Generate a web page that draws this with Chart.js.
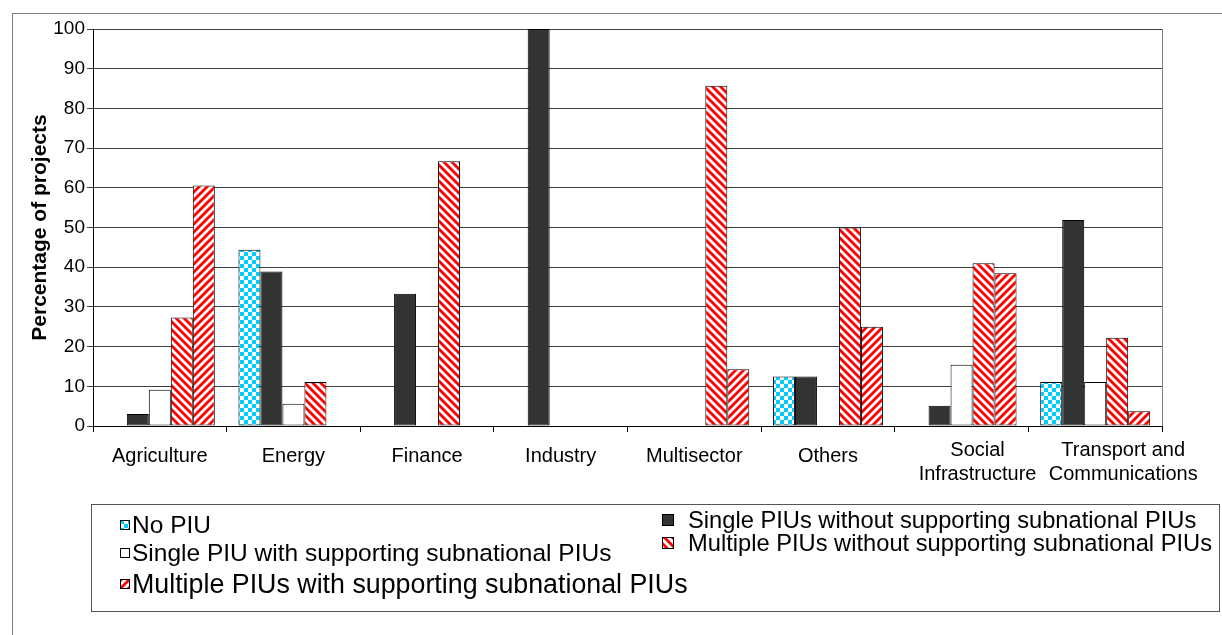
<!DOCTYPE html>
<html><head><meta charset="utf-8">
<script src="https://cdn.jsdelivr.net/npm/chart.js@4.4.1/dist/chart.umd.min.js"></script>
<style>
html,body{margin:0;padding:0;background:#fff;overflow:hidden;}
#wrap{position:relative;width:1222px;height:635px;overflow:hidden;font-family:"Liberation Sans",Arial,sans-serif;background:#fff;}
#outer{position:absolute;left:12px;top:13px;width:1300px;height:700px;border:1px solid #808080;}
#c{position:absolute;left:0;top:0;}
#legend{position:absolute;left:91px;top:504px;width:1129px;height:108px;border:1px solid #555;box-sizing:border-box;}
.item{position:absolute;white-space:nowrap;color:#000;display:flex;align-items:center;height:30px;}
.item canvas{display:block;}
</style></head><body>
<div id="wrap"><div id="outer"></div><canvas id="c" width="1222" height="635"></canvas><div id="legend"></div></div>
<script>
// ---- data ----
const categories = ['Agriculture', 'Energy', 'Finance', 'Industry', 'Multisector', 'Others', ['Social', 'Infrastructure'], ['Transport and', 'Communications']];
const seriesNames = ['No PIU', 'Single PIUs without supporting subnational PIUs', 'Single PIU with supporting subnational PIUs', 'Multiple PIUs without supporting subnational PIUs', 'Multiple PIUs with supporting subnational PIUs'];
const noPIU           = [0,    44.4, 0,    0,   0,    12.5, 0,    11.1];
const singleWithout   = [3.0,  38.9, 33.3, 100, 0,    12.5, 5.1,  51.9];
const singleWith      = [9.1,  5.6,  0,    0,   0,    0,    15.4, 11.1];
const multipleWithout = [27.3, 11.1, 66.7, 0,   85.7, 50.0, 41.0, 22.2];
const multipleWith    = [60.6, 0,    0,    0,   14.3, 25.0, 38.5, 3.7];
const yTicks = [0, 10, 20, 30, 40, 50, 60, 70, 80, 90, 100];
const yTitle = 'Percentage of projects';

// ---- styles ----
const labelShift = [0, 0, 0, 0, 0, 0, 16, 28];
const FONT = '"Liberation Sans", Arial, sans-serif';

// ---- patterns ----
const CYAN = [0, 204, 255], WHITE = [255, 255, 255], RED = [255, 0, 0], DARK = [51, 51, 51];
function tile(size, fn) {
  const c = document.createElement('canvas'); c.width = c.height = size;
  const g = c.getContext('2d'); const img = g.createImageData(size, size);
  for (let y = 0; y < size; y++) for (let x = 0; x < size; x++) {
    const col = fn(x, y); const i = (y * size + x) * 4;
    img.data[i] = col[0]; img.data[i + 1] = col[1]; img.data[i + 2] = col[2]; img.data[i + 3] = 255;
  }
  g.putImageData(img, 0, 0); return c;
}
function mix(a, b, t) { return [0, 1, 2].map(k => Math.round(a[k] * t + b[k] * (1 - t))); }
function stripe(dir) {
  return tile(8, (x, y) => {
    let cov = 0, n = 0;
    for (let sy = 0; sy < 4; sy++) for (let sx = 0; sx < 4; sx++) {
      const px = x + (sx + 0.5) / 4, py = y + (sy + 0.5) / 4;
      const v = dir === '/' ? px + py : px - py + 16;
      if ((v % 8) < 4) cov++; n++;
    }
    return mix(RED, WHITE, cov / n);
  });
}
const tiles = [
  tile(8, (x, y) => ((Math.floor(x / 4) + Math.floor(y / 4)) % 2 === 0 ? CYAN : WHITE)),
  tile(8, () => DARK),
  tile(8, () => WHITE),
  stripe('\\'),
  stripe('/')
];
const ctx = document.getElementById('c').getContext('2d');
const fills = tiles.map(t => ctx.createPattern(t, 'repeat'));
const seriesValues = [noPIU, singleWithout, singleWith, multipleWithout, multipleWith];

// spaced tick labels: single-line labels sit between the two lines of wrapped labels
function tickLines(lab) {
  if (Array.isArray(lab)) return [lab[0], '', '', '', lab[1]];
  return ['', lab];
}

const plotBorder = {
  id: 'plotBorder',
  beforeDatasetsDraw(chart) {
    const { ctx, chartArea: a } = chart;
    ctx.save(); ctx.strokeStyle = '#808080'; ctx.lineWidth = 1;
    const x = Math.round(a.right) + 0.5;
    ctx.beginPath(); ctx.moveTo(x, a.top); ctx.lineTo(x, a.bottom); ctx.stroke();
    ctx.restore();
  }
};
// wrapped category labels sit a little right of the category centre, as in the original
const shiftLabels = {
  id: 'shiftLabels',
  beforeDraw(chart) {
    const items = chart.scales.x.getLabelItems();
    items.forEach((it, i) => {
      if (!it._shifted) { it.options.translation[0] += labelShift[i] || 0; it._shifted = true; }
    });
  }
};

new Chart(ctx, {
  type: 'bar',
  data: {
    labels: categories,
    datasets: seriesNames.map((name, i) => ({
      label: name,
      data: seriesValues[i],
      backgroundColor: fills[i],
      borderColor: '#000',
      borderWidth: 1,
      borderSkipped: false,
      categoryPercentage: 0.823,
      barPercentage: 1.0
    }))
  },
  options: {
    responsive: false,
    animation: false,
    devicePixelRatio: 1,
    layout: { padding: { left: 0, top: 29, right: 60, bottom: 0 } },
    plugins: { legend: { display: false }, tooltip: { enabled: false }, title: { display: false } },
    scales: {
      x: {
        afterFit(s) { s.height = 209; },
        grid: { offset: true, drawOnChartArea: false, drawTicks: true, tickLength: 6, color: '#000' },
        border: { display: true, color: '#000', width: 1 },
        ticks: {
          autoSkip: false, maxRotation: 0, minRotation: 0, padding: 15, color: '#000',
          font: { family: FONT, size: 20, lineHeight: '6px' },
          callback(v, i) { return tickLines(categories[i]); }
        }
      },
      y: {
        min: 0, max: 100,
        afterFit(s) { s.width = 93; },
        afterBuildTicks(s) { s.ticks = yTicks.map(v => ({ value: v })); },
        grid: { color: '#404040', lineWidth: 1, drawTicks: true, tickLength: 6 },
        border: { display: true, color: '#000', width: 1 },
        ticks: { padding: 2, color: '#000', font: { family: FONT, size: 19 } },
        title: {
          display: true, text: yTitle, color: '#000',
          font: { family: FONT, size: 21, weight: 'bold' },
          padding: { top: 28, bottom: 0 }
        }
      }
    }
  },
  plugins: [plotBorder, shiftLabels]
});

// ---- legend (HTML, real text) ----
const legendLayout = [
  { s: 0, left: 28, top: 5,  size: 24.5, icon: 10, gap: 2 },
  { s: 2, left: 28, top: 33, size: 24.5, icon: 10, gap: 2 },
  { s: 4, left: 28, top: 64, size: 26.8, icon: 10, gap: 2 },
  { s: 1, left: 570, top: 0, size: 23.7, icon: 12, gap: 14 },
  { s: 3, left: 570, top: 23, size: 23.7, icon: 12, gap: 14 }
];
const legend = document.getElementById('legend');
legendLayout.forEach(L => {
  const d = document.createElement('div'); d.className = 'item';
  d.style.left = L.left + 'px'; d.style.top = L.top + 'px'; d.style.fontSize = L.size + 'px';
  const ic = document.createElement('canvas'); ic.width = ic.height = L.icon;
  const g = ic.getContext('2d');
  g.fillStyle = g.createPattern(tiles[L.s], 'repeat'); g.fillRect(0, 0, L.icon, L.icon);
  g.strokeStyle = '#000'; g.lineWidth = 1; g.strokeRect(0.5, 0.5, L.icon - 1, L.icon - 1);
  ic.style.marginRight = L.gap + 'px';
  const t = document.createElement('span'); t.textContent = seriesNames[L.s];
  d.appendChild(ic); d.appendChild(t); legend.appendChild(d);
});
</script>
</body></html>
